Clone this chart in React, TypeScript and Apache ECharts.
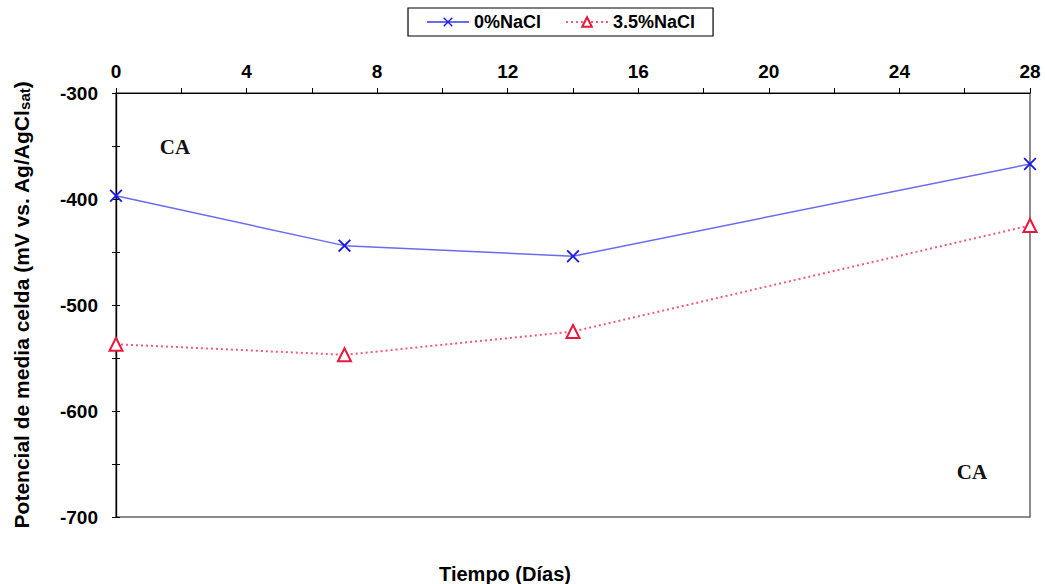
import React, { useEffect, useRef } from "react";
import * as echarts from "echarts";

const days = [0, 7, 14, 28];
const nacl0 = [-397, -444, -454, -367];
const nacl35 = [-537, -547, -525, -425];
const seriesNames = ["0%NaCl", "3.5%NaCl"];
const xTitle = "Tiempo (Días)";
const caLabel = "CA";

const crossPath =
  "path://M0,1 L1,0 L5,4 L9,0 L10,1 L6,5 L10,9 L9,10 L5,6 L1,10 L0,9 L4,5 Z";

const sans = "Liberation Sans, Arial, sans-serif";

export default function App() {
  const ref = useRef<HTMLDivElement>(null);
  useEffect(() => {
    const chart = echarts.init(ref.current!, null, { renderer: "svg" });
    const yAxisBase = {
      type: "value",
      min: -700,
      max: -300,
      interval: 100,
      splitLine: { show: false },
      axisLine: { show: true, lineStyle: { color: "#000", width: 1.2 } },
    };
    chart.setOption({
      animation: false,
      backgroundColor: "#fff",
      grid: {
        left: 116,
        right: 15,
        top: 93,
        bottom: 67,
        outerBoundsMode: "none",
        containLabel: false,
        show: true,
        borderColor: "#666",
        borderWidth: 1.5,
        backgroundColor: "transparent",
      },
      legend: {
        data: seriesNames,
        top: 8,
        left: 408,
        itemWidth: 42,
        itemHeight: 12,
        itemGap: 24,
        padding: [5, 18, 5, 18],
        borderColor: "#000",
        borderWidth: 1.2,
        textStyle: {
          fontFamily: sans,
          fontWeight: "bold",
          fontSize: 18,
          color: "#000",
        },
      },
      xAxis: {
        type: "value",
        position: "top",
        min: 0,
        max: 28,
        interval: 4,
        splitLine: { show: false },
        axisLine: { show: true, lineStyle: { color: "#000", width: 1.2 } },
        axisTick: { show: true, inside: false, length: 5, lineStyle: { color: "#000" } },
        minorTick: { show: true, splitNumber: 2, length: 5, lineStyle: { color: "#000" } },
        axisLabel: {
          margin: 12,
          fontFamily: sans,
          fontWeight: "bold",
          fontSize: 19,
          color: "#000",
        },
      },
      yAxis: [
        {
          ...yAxisBase,
          axisTick: { show: true, length: 4, lineStyle: { color: "#000" } },
          minorTick: { show: true, splitNumber: 2, length: 4, lineStyle: { color: "#000" } },
          axisLabel: {
            margin: 18,
            fontFamily: sans,
            fontWeight: "bold",
            fontSize: 19,
            color: "#000",
          },
          name: "{a|Potencial de media celda (mV vs. Ag/AgCl}{b|sat}{a|)}",
          nameLocation: "middle",
          nameGap: 84,
          nameRotate: 90,
          nameTextStyle: {
            rich: {
              a: {
                fontFamily: sans,
                fontWeight: "bold",
                fontSize: 21,
                color: "#000",
              },
              b: {
                fontFamily: sans,
                fontWeight: "bold",
                fontSize: 15,
                color: "#000",
                verticalAlign: "bottom",
                padding: [7, 0, 0, 0],
              },
            },
          },
        },
        {
          ...yAxisBase,
          position: "left",
          axisTick: { show: true, inside: true, length: 4, lineStyle: { color: "#000" } },
          minorTick: { show: true, splitNumber: 2, length: 4, lineStyle: { color: "#000" } },
          axisLabel: { show: false },
        },
      ],
      graphic: [
        {
          type: "text",
          x: 505,
          y: 574,
          style: {
            text: xTitle,
            font: "bold 20px 'Liberation Sans', Arial, sans-serif",
            fill: "#000",
            align: "center",
            verticalAlign: "middle",
          },
        },
        {
          type: "text",
          x: 175,
          y: 147,
          style: {
            text: caLabel,
            font: "bold 21px 'Liberation Serif', 'Times New Roman', serif",
            fill: "#111",
            align: "center",
            verticalAlign: "middle",
          },
        },
        {
          type: "text",
          x: 972,
          y: 472,
          style: {
            text: caLabel,
            font: "bold 21px 'Liberation Serif', 'Times New Roman', serif",
            fill: "#111",
            align: "center",
            verticalAlign: "middle",
          },
        },
      ],
      series: [
        {
          name: seriesNames[0],
          type: "line",
          data: days.map((d, i) => [d, nacl0[i]]),
          symbol: crossPath,
          symbolSize: 13,
          itemStyle: { color: "#1a1ae6" },
          lineStyle: { color: "#6a6af2", width: 1.5, type: "solid" },
          z: 3,
        },
        {
          name: seriesNames[1],
          type: "line",
          data: days.map((d, i) => [d, nacl35[i]]),
          symbol: "triangle",
          symbolSize: 13,
          itemStyle: { color: "#fff", borderColor: "#e8183c", borderWidth: 2 },
          lineStyle: { color: "#f25a7a", width: 2, type: [2, 3] },
          z: 3,
        },
      ],
    });
    return () => chart.dispose();
  }, []);
  return (
    <div
      ref={ref}
      style={{ position: "absolute", left: 0, top: 0, width: 1045, height: 584 }}
    />
  );
}
